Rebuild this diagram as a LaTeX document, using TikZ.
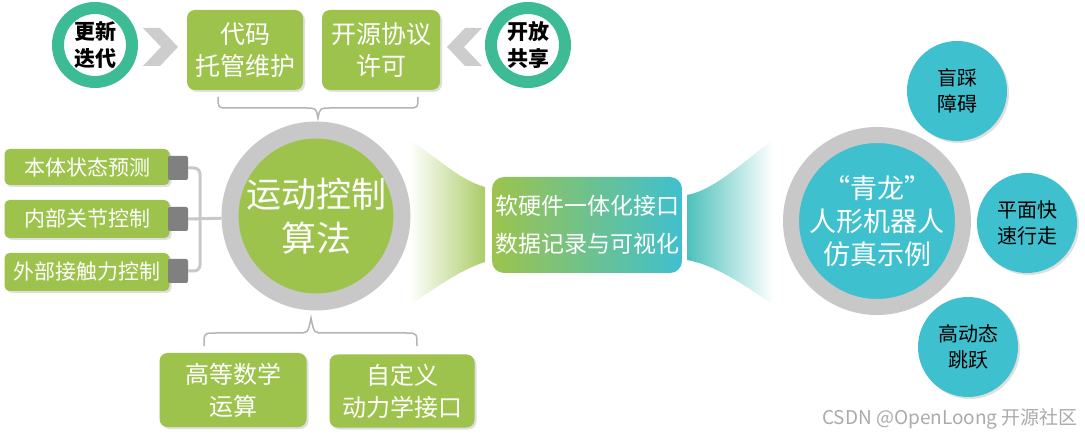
\documentclass[tikz,border=0pt]{standalone}
\usepackage{fontspec}
\setmainfont{Noto Sans CJK SC}
\usetikzlibrary{shadows}
\definecolor{gr}{HTML}{9DC34C}
\definecolor{tl}{HTML}{3FC0CF}
\definecolor{ringc}{HTML}{3DBB94}
\definecolor{lg}{HTML}{C8C8C8}
\definecolor{tabc}{HTML}{808080}
\definecolor{chev}{HTML}{CDCDCD}
\tikzset{
  shd/.style={drop shadow={shadow xshift=2pt,shadow yshift=-2pt,opacity=0.25}},
  gbox/.style={rectangle,rounded corners=8pt,fill=gr,text=white,align=center,inner sep=0pt,shd},
  lbox/.style={rectangle,rounded corners=5pt,fill=gr,text=white,align=center,inner sep=0pt,minimum width=165pt,shd,font=\fontsize{21}{24}\selectfont},
  tabbox/.style={rectangle,rounded corners=2pt,fill=tabc,minimum width=20pt,minimum height=24pt,inner sep=0pt},
  ringcirc/.style={circle,fill=white,draw=ringc,line width=12pt,minimum size=74pt,inner sep=0pt,align=center,font=\fontsize{21}{27}\selectfont\bfseries},
  bigcirc/.style={circle,draw=lg,line width=17pt,minimum size=172pt,inner sep=0pt,align=center,text=white},
  smallcirc/.style={circle,fill=tl,minimum size=100pt,inner sep=0pt,align=center,shd,font=\fontsize{20}{26}\selectfont},
  conn/.style={draw=lg,line width=3pt},
  bracec/.style={draw=lg!90!black,line width=1.5pt},
}
\begin{document}
\begin{tikzpicture}[x=1pt,y=-1pt]
\useasboundingbox[fill=white] (0,0) rectangle (1085,438);

% funnels
\shade[left color=white,right color=gr!85] (410,140) .. controls (440,160) and (460,180) .. (485,187) -- (485,262) .. controls (460,270) and (440,285) .. (410,305) -- cycle;
\shade[left color=tl!85!gr,right color=white] (687,195) .. controls (715,190) and (745,160) .. (773,140) -- (773,305) .. controls (745,285) and (715,265) .. (687,260) -- cycle;

% top row
\node[ringcirc] (upd) at (95,45) {更新\\迭代};
\node[ringcirc] (share) at (528,45) {开放\\共享};
\fill[chev] (143,28) -- (160,28) -- (178,47) -- (160,66) -- (143,66) -- (161,47) -- cycle;
\fill[chev] (482,28) -- (465,28) -- (447,47) -- (465,66) -- (482,66) -- (464,47) -- cycle;
\node[gbox,minimum width=116pt,minimum height=80pt,font=\fontsize{25}{32}\selectfont] (code) at (245,50) {代码\\托管维护};
\node[gbox,minimum width=118pt,minimum height=80pt,font=\fontsize{25}{32}\selectfont] (lic) at (381,50) {开源协议\\许可};

% braces
\draw[bracec] (218,97) .. controls (218,108) .. (228,108) -- (306,108) .. controls (316,108) .. (318,118) .. controls (320,108) .. (330,108) -- (408,108) .. controls (418,108) .. (418,97);
\draw[bracec] (204,346) .. controls (204,333) .. (216,333) -- (298,333) .. controls (308,333) .. (311,318) .. controls (314,333) .. (324,333) -- (406,333) .. controls (417,333) .. (417,346);

% central algorithm circle
\node[bigcirc,fill=gr,font=\fontsize{35}{44}\selectfont] (alg) at (316,216) {运动控制\\算法};

% left boxes
\node[lbox,minimum height=36pt] (l1) at (87,167) {本体状态预测};
\node[lbox,minimum height=38pt] (l2) at (87,219) {内部关节控制};
\node[lbox,minimum height=38pt] (l3) at (87,272) {外部接触力控制};
\node[tabbox] (t1) at (178,168) {};
\node[tabbox] (t2) at (178,219) {};
\node[tabbox] (t3) at (178,271) {};
\coordinate (bx) at (200,219);
\draw[conn,rounded corners=6pt] (t1.east) -| (bx) |- (t3.east);
\draw[conn] (t2.east) -- (alg);

% bottom boxes
\node[gbox,minimum width=147pt,minimum height=74pt,font=\fontsize{24}{32}\selectfont] (math) at (233,390) {高等数学\\运算};
\node[gbox,minimum width=145pt,minimum height=73pt,font=\fontsize{24}{32}\selectfont] (dyn) at (402,391) {自定义\\动力学接口};

% center box
\node[rectangle,rounded corners=12pt,left color=gr,right color=tl,minimum width=190pt,minimum height=96pt,inner sep=0pt,align=center,text=white,font=\fontsize{23}{38}\selectfont] (iface) at (587,225) {软硬件一体化接口\\数据记录与可视化};

% right circle
\node[bigcirc,fill=tl,line width=16pt,font=\fontsize{27}{33}\selectfont] (ql) at (877,221) {“青龙”\\人形机器人\\仿真示例};
\node[smallcirc] (s1) at (957,91) {盲踩\\障碍};
\node[smallcirc] (s2) at (1027,223) {平面快\\速行走};
\node[smallcirc] (s3) at (968,347) {高动态\\跳跃};

% watermark
\node[text=black!33,font=\fontsize{19}{22}\selectfont,anchor=east,inner sep=0pt] (wm) at (1078,419) {CSDN @OpenLoong 开源社区};
\end{tikzpicture}
\end{document}
